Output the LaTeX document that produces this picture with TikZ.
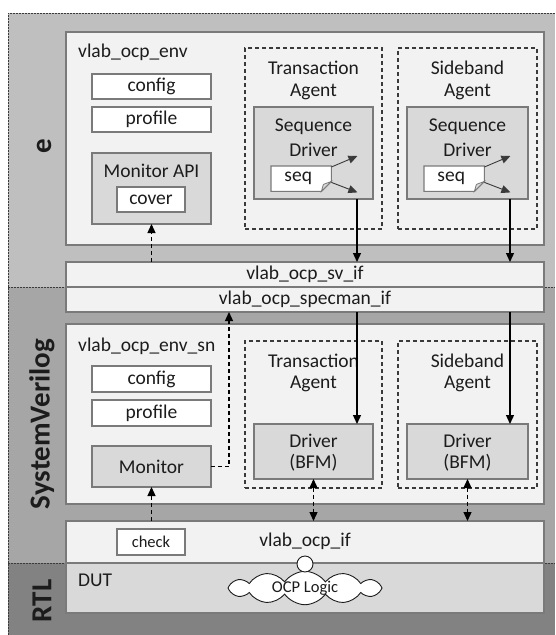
\documentclass[tikz,border=0pt]{standalone}
\usepackage{fontspec}
\setmainfont{Carlito}
\usetikzlibrary{arrows.meta,shapes.symbols}

\definecolor{bandE}{HTML}{BFBFBF}
\definecolor{bandSV}{HTML}{A6A6A6}
\definecolor{bandRTL}{HTML}{828282}
\definecolor{panel}{HTML}{F2F2F2}
\definecolor{block}{HTML}{D9D9D9}
\definecolor{edge}{HTML}{7A7A7A}
\definecolor{ink}{HTML}{1C1C1C}
\definecolor{dashink}{HTML}{3A3A3A}

\tikzset{
  txt/.style={font=\fontsize{19.5}{22}\selectfont, text=ink, inner sep=0pt},
  smalltxt/.style={font=\fontsize{16.5}{19}\selectfont, text=ink, inner sep=0pt},
  bandlbl/.style={font=\fontsize{29}{30}\selectfont\bfseries, text=ink, inner sep=0pt, rotate=90},
  box/.style={draw=edge, line width=1.1pt, inner sep=0pt, outer sep=0pt, anchor=north west},
  agentbox/.style={box, draw=dashink, dash pattern=on 4pt off 3pt, line width=1.1pt},
  bandline/.style={draw=dashink, line width=0.9pt, dash pattern=on 2pt off 1pt},
  arr/.style={draw=black, line width=1.3pt, -{Triangle[length=9pt,width=8pt]}},
  darr/.style={arr, dash pattern=on 4pt off 3pt},
  ddarr/.style={darr, {Triangle[length=9pt,width=8pt]}-{Triangle[length=9pt,width=8pt]}},
  seqarr/.style={draw=dashink, line width=0.9pt, -{Triangle[length=9pt,width=8pt]}},
}

% \rbox[style]{name}{x0}{y0}{x1}{y1}: rectangle given by its corners
\newcommand{\rbox}[6][]{%
  \node[box,#1,minimum width={(#5-#3)*1pt},minimum height={(#6-#4)*1pt}] (#2) at (#3,#4) {};}

\begin{document}
\begin{tikzpicture}[x=1pt,y=-1pt]
\useasboundingbox (0,0) rectangle (555,635);

% language bands
\fill[bandE]   (8,13)  rectangle (555,287);
\fill[bandSV]  (8,287) rectangle (555,563);
\fill[bandRTL] (8,563) rectangle (555,635);
\draw[bandline] (8,635) -- (8,13) -- (555,13);
\draw[bandline] (8,287) -- (555,287);
\draw[bandline] (8,563) -- (555,563);

\node[bandlbl] (lblE)   at (44,146) {e};
\node[bandlbl] (lblSV)  at (42,424) {SystemVerilog};
\node[bandlbl] (lblRTL) at (42,601) {RTL};

% ---------------- e environment ----------------
\rbox[fill=panel]{envE}{66}{32}{544}{245}
\node[txt, anchor=west] (tEnvE) at (78,52) {vlab\_ocp\_env};
\rbox[fill=white]{cfgE}{92}{74}{211}{99}
\node[txt] (tCfgE) at (151.5,86.5) {config};
\rbox[fill=white]{profE}{92}{107}{211}{132}
\node[txt] (tProfE) at (151.5,119.5) {profile};
\rbox[fill=block]{monapi}{92}{153}{211}{224}
\node[txt] (tMonapi) at (151.5,171) {Monitor API};
\rbox[fill=white]{cover}{117}{187}{185}{212}
\node[txt] (tCover) at (151,199.5) {cover};

% transaction agent (e)
\rbox[agentbox]{taE}{245}{48}{382}{229}
\node[txt] (tTaE1) at (313.5,68) {Transaction};
\node[txt] (tTaE2) at (313.5,92) {Agent};
\rbox[fill=block]{sdT}{254}{107}{373}{199}
\node[txt] (tSdT1) at (313.5,127) {Sequence};
\node[txt] (tSdT2) at (313.5,150) {Driver};
\node[minimum width=60pt, minimum height=25pt, inner sep=0pt, anchor=north west] (seqT) at (271,166) {};

% sideband agent (e)
\rbox[agentbox]{saE}{398}{48}{537}{229}
\node[txt] (tSaE1) at (467.5,68) {Sideband};
\node[txt] (tSaE2) at (467.5,92) {Agent};
\rbox[fill=block]{sdS}{407}{107}{528}{199}
\node[txt] (tSdS1) at (467.5,127) {Sequence};
\node[txt] (tSdS2) at (467.5,150) {Driver};
\node[minimum width=60pt, minimum height=25pt, inner sep=0pt, anchor=north west] (seqS) at (424,166) {};

% dog-eared sequence boxes with their outgoing items
\foreach \s in {seqT,seqS}{
  \filldraw[fill=white, draw=edge, line width=1.1pt]
    (\s.north west) -- (\s.north east) -- ([yshift=10pt]\s.south east)
    -- ([xshift=-10pt]\s.south east) -- (\s.south west) -- cycle;
  \filldraw[fill=block, draw=edge, line width=0.8pt]
    ([yshift=10pt]\s.south east) -- ([xshift=-8pt,yshift=7pt]\s.south east)
    -- ([xshift=-10pt]\s.south east) -- cycle;
  \node[txt] at ([xshift=-3pt]\s.center) {seq};
  \coordinate (\s-up) at ([xshift=26pt,yshift=10pt]\s.north east);
  \coordinate (\s-dn) at ([xshift=26pt,yshift=-1pt]\s.south east);
  \draw[seqarr] ([yshift=-1pt]\s.north east) -- (\s-up);
  \draw[seqarr] ([yshift=9pt]\s.south east) -- (\s-dn);
}

% ---------------- interface layers ----------------
\rbox[fill=panel]{svif}{66}{262}{544}{287}
\node[txt] (tSvif) at (305,274) {vlab\_ocp\_sv\_if};
\rbox[fill=panel]{specif}{66}{287}{544}{312}
\node[txt] (tSpecif) at (305,299) {vlab\_ocp\_specman\_if};

% ---------------- SystemVerilog environment ----------------
\rbox[fill=panel]{envSV}{66}{324}{544}{504}
\node[txt, anchor=west] (tEnvSV) at (78,346) {vlab\_ocp\_env\_sn};
\rbox[fill=white]{cfgSV}{92}{366}{211}{392}
\node[txt] (tCfgSV) at (151.5,379) {config};
\rbox[fill=white]{profSV}{92}{400}{211}{426}
\node[txt] (tProfSV) at (151.5,413) {profile};
\rbox[fill=block]{mon}{92}{446}{211}{487}
\node[txt] (tMon) at (151.5,466.5) {Monitor};

\rbox[agentbox]{taSV}{245}{341}{382}{488}
\node[txt] (tTaSV1) at (313.5,361) {Transaction};
\node[txt] (tTaSV2) at (313.5,384) {Agent};
\rbox[fill=block]{drvT}{254}{424}{373}{479}
\node[txt] (tDrvT1) at (313.5,441) {Driver};
\node[txt] (tDrvT2) at (313.5,463) {(BFM)};

\rbox[agentbox]{saSV}{398}{341}{537}{488}
\node[txt] (tSaSV1) at (467.5,361) {Sideband};
\node[txt] (tSaSV2) at (467.5,384) {Agent};
\rbox[fill=block]{drvS}{407}{424}{528}{479}
\node[txt] (tDrvS1) at (467.5,441) {Driver};
\node[txt] (tDrvS2) at (467.5,463) {(BFM)};

% ---------------- signal interface and DUT ----------------
\rbox[fill=panel]{ocpif}{66}{521}{544}{563}
\node[txt] (tOcpif) at (305,541) {vlab\_ocp\_if};
\rbox[fill=white]{check}{117}{529}{185}{555}
\node[smalltxt] (tCheck) at (151,542) {check};
\rbox[fill=block]{dut}{66}{563}{544}{613}
\node[txt, anchor=west] (tDut) at (78,580) {DUT};
\node[cloud, cloud puffs=12, cloud puff arc=110, aspect=5.2, draw=ink, fill=white,
      line width=0.9pt, minimum width=154pt, minimum height=31pt, inner sep=0pt,
      smalltxt] (logic) at (305,588) {OCP Logic};
\node[circle, draw=ink, fill=white, line width=0.9pt, minimum size=16pt, inner sep=0pt] (port) at (305,564) {};

% ---------------- connectors ----------------
\coordinate (xT) at (357,0);
\coordinate (xS) at (510,0);
\coordinate (xM) at (229,0);

\draw[arr] (sdT.south -| xT) -- (svif.north -| xT);
\draw[arr] (sdS.south -| xS) -- (svif.north -| xS);
\draw[arr] (specif.south -| xT) -- (drvT.north -| xT);
\draw[arr] (specif.south -| xS) -- (drvS.north -| xS);

\draw[darr] (svif.north -| monapi.south) -- (monapi.south);
\draw[darr] (mon.east) -| (specif.south -| xM);
\draw[darr] (ocpif.north -| mon.south) -- (mon.south);
\draw[ddarr] (drvT.south) -- (ocpif.north -| drvT.south);
\draw[ddarr] (drvS.south) -- (ocpif.north -| drvS.south);

\end{tikzpicture}
\end{document}
